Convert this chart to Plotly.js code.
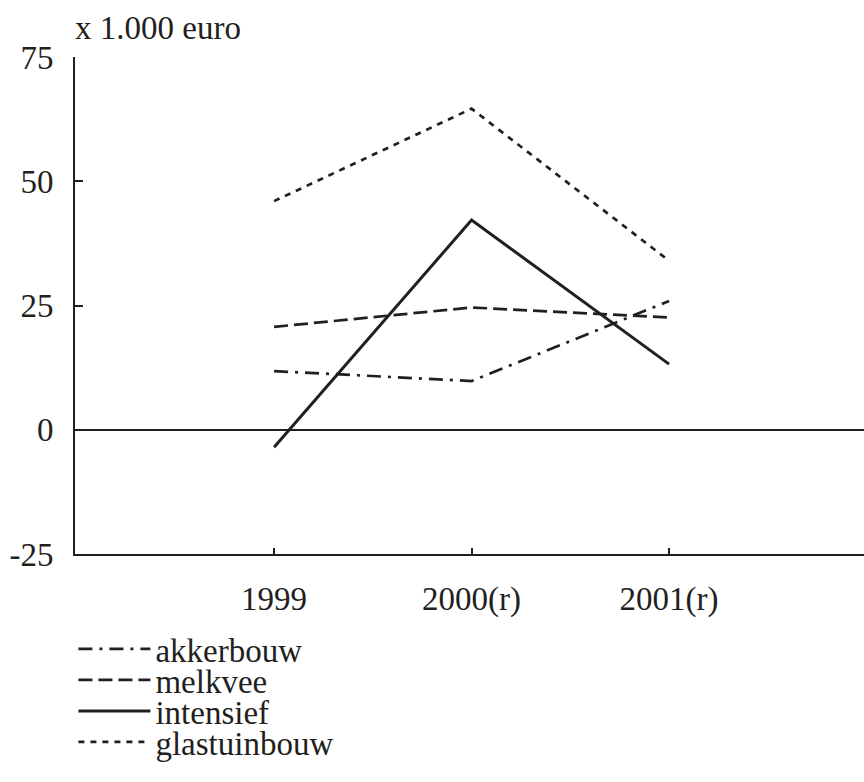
<!DOCTYPE html>
<html>
<head>
<meta charset="utf-8">
<script src="https://cdn.plot.ly/plotly-3.0.1.min.js"></script>
<style>html,body{margin:0;padding:0;background:#fff;}#chart{width:864px;height:782px;}</style>
</head>
<body>
<div id="chart"></div>
<script>
const years = ["1999", "2000(r)", "2001(r)"];
const akkerbouw = [11.8, 9.8, 25.9];
const melkvee = [20.7, 24.6, 22.6];
const intensief = [-3.5, 42.2, 13.2];
const glastuinbouw = [46.0, 64.6, 34.0];
const seriesNames = ["akkerbouw", "melkvee", "intensief", "glastuinbouw"];
const yTickVals = [-25, 0, 25, 50, 75];
const yTickText = ["-25", "0", "25", "50", "75"];
const unitLabel = "x 1.000 euro";

const FONT = "Liberation Serif";
const INK = "#231f20";
const FS = 33;

const seriesData = [akkerbouw, melkvee, intensief, glastuinbouw];
const dashes = ["14px,7px,3px,7px", "14px,6px", "solid", "6px,6px"];
const widths = [2.7, 2.7, 3, 2.7];
const legendIds = ["legend", "legend2", "legend3", "legend4"];

const traces = seriesData.map((vals, i) => ({
  type: "scatter",
  mode: "lines",
  x: years,
  y: vals,
  name: seriesNames[i],
  legend: legendIds[i],
  line: {color: INK, width: widths[i], dash: dashes[i]},
  hoverinfo: "skip"
}));

const legendTops = [649, 680, 711, 742];
const H = 782, mt = 57, mb = 228;
const plotH = H - mt - mb;
function legendCfg(centerPx) {
  return {
    x: -0.002, xanchor: "left",
    y: (H - mb - centerPx) / plotH, yanchor: "middle",
    font: {family: FONT, size: FS, color: INK},
    itemwidth: 72,
    bgcolor: "rgba(0,0,0,0)",
    borderwidth: 0,
    tracegroupgap: 0
  };
}

const layout = {
  width: 864, height: 782,
  margin: {l: 75, r: 0, t: mt, b: mb},
  paper_bgcolor: "#fff", plot_bgcolor: "#fff",
  font: {family: FONT, size: FS, color: INK},
  showlegend: true,
  legend: legendCfg(legendTops[0]),
  legend2: legendCfg(legendTops[1]),
  legend3: legendCfg(legendTops[2]),
  legend4: legendCfg(legendTops[3]),
  xaxis: {
    type: "category",
    range: [-1.008, 2.987],
    showgrid: false, zeroline: false,
    showline: true, linecolor: INK, linewidth: 2,
    ticks: "inside", ticklen: 6, tickwidth: 2, tickcolor: INK,
    tickfont: {family: FONT, size: FS, color: INK},
    ticklabelstandoff: 14,
    fixedrange: true
  },
  yaxis: {
    range: [-25, 75],
    tickvals: yTickVals, ticktext: yTickText,
    showgrid: false,
    zeroline: true, zerolinecolor: INK, zerolinewidth: 2,
    showline: true, linecolor: INK, linewidth: 2,
    ticks: "inside", ticklen: 8, tickwidth: 2, tickcolor: INK,
    tickfont: {family: FONT, size: FS, color: INK},
    ticklabelstandoff: 13,
    fixedrange: true
  },
  annotations: [{
    text: unitLabel, showarrow: false,
    xref: "paper", yref: "paper",
    x: -0.003, xanchor: "left",
    y: 1 + (mt - 28) / plotH, yanchor: "middle",
    font: {family: FONT, size: FS, color: INK}
  }]
};

Plotly.newPlot("chart", traces, layout, {displayModeBar: false, staticPlot: true});
</script>
</body>
</html>
